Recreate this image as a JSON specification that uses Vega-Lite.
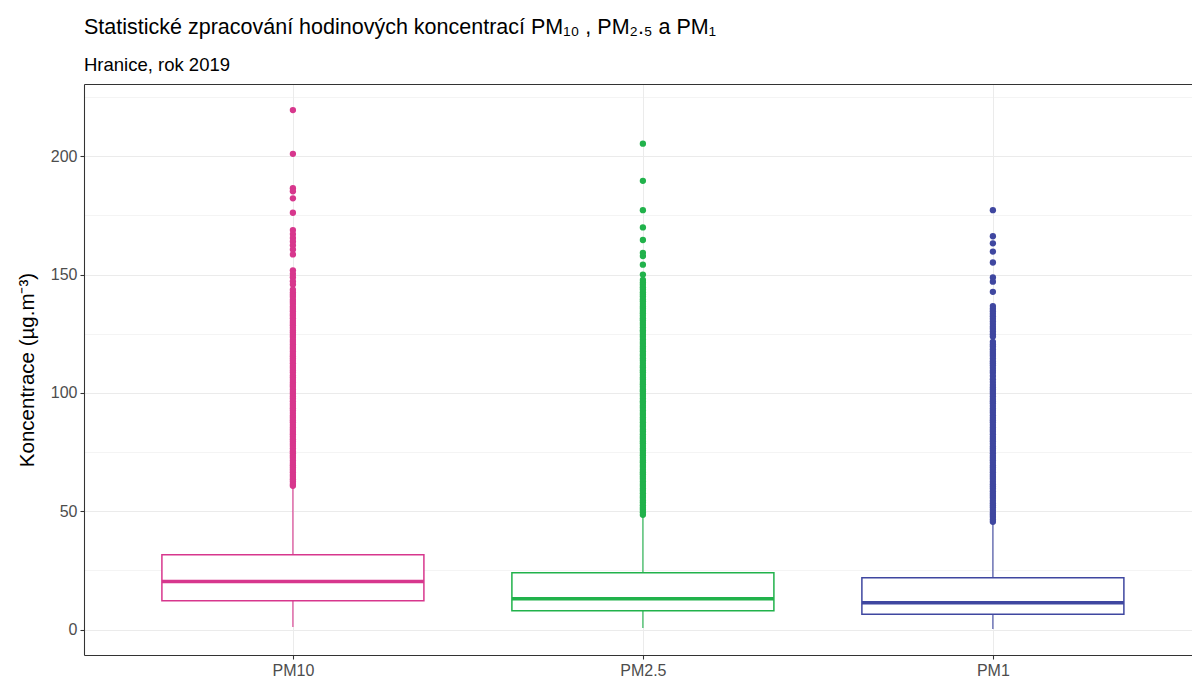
{
  "$schema": "https://vega.github.io/schema/vega-lite/v6.json",
  "autosize": "none",
  "width": 1108,
  "height": 571,
  "padding": {"left": 84, "top": 84, "right": 0, "bottom": 24},
  "background": "white",
  "config": {
    "view": {"stroke": null},
    "font": "Liberation Sans"
  },
  "title": {
    "text": "Statistické zpracování hodinových koncentrací PM₁₀ , PM₂.₅ a PM₁",
    "subtitle": "Hranice, rok 2019",
    "anchor": "start",
    "frame": "group",
    "font": "Liberation Sans",
    "fontSize": 21.5,
    "fontWeight": "normal",
    "color": "#000000",
    "subtitleFont": "Liberation Sans",
    "subtitleFontSize": 18.5,
    "subtitleColor": "#000000",
    "offset": 10,
    "subtitlePadding": 17
  },
  "datasets": {
    "stats": [
      {"pm": "PM10", "lower": 1.1, "q1": 12.2, "median": 20.3, "q3": 31.6, "upper": 60.6},
      {"pm": "PM2.5", "lower": 0.7, "q1": 8.0, "median": 13.1, "q3": 24.0, "upper": 48.2},
      {"pm": "PM1", "lower": 0.3, "q1": 6.5, "median": 11.4, "q3": 21.9, "upper": 45.3}
    ],
    "outliers": [
      {"pm": "PM10", "v": 219.5}, {"pm": "PM10", "v": 201.0}, {"pm": "PM10", "v": 186.5}, {"pm": "PM10", "v": 185.2},
      {"pm": "PM10", "v": 182.2}, {"pm": "PM10", "v": 176.1}, {"pm": "PM10", "v": 168.8}, {"pm": "PM10", "v": 167.1},
      {"pm": "PM10", "v": 165.5}, {"pm": "PM10", "v": 164.0}, {"pm": "PM10", "v": 162.4}, {"pm": "PM10", "v": 160.6},
      {"pm": "PM10", "v": 158.5}, {"pm": "PM10", "v": 151.8}, {"pm": "PM10", "v": 150.3}, {"pm": "PM10", "v": 148.9},
      {"pm": "PM10", "v": 147.2}, {"pm": "PM10", "v": 145.8},
      {"pm": "PM10", "v": 143.6}, {"pm": "PM10", "v": 142.4}, {"pm": "PM10", "v": 141.5}, {"pm": "PM10", "v": 140.6},
      {"pm": "PM10", "v": 139.4}, {"pm": "PM10", "v": 138.5}, {"pm": "PM10", "v": 137.6}, {"pm": "PM10", "v": 136.4},
      {"pm": "PM10", "v": 135.5}, {"pm": "PM10", "v": 134.5}, {"pm": "PM10", "v": 133.4}, {"pm": "PM10", "v": 132.6},
      {"pm": "PM10", "v": 131.5}, {"pm": "PM10", "v": 130.4}, {"pm": "PM10", "v": 129.5}, {"pm": "PM10", "v": 128.6},
      {"pm": "PM10", "v": 127.5}, {"pm": "PM10", "v": 126.4}, {"pm": "PM10", "v": 125.5}, {"pm": "PM10", "v": 124.5},
      {"pm": "PM10", "v": 123.6}, {"pm": "PM10", "v": 122.4}, {"pm": "PM10", "v": 121.5}, {"pm": "PM10", "v": 120.5},
      {"pm": "PM10", "v": 119.4}, {"pm": "PM10", "v": 118.6}, {"pm": "PM10", "v": 117.5}, {"pm": "PM10", "v": 116.4},
      {"pm": "PM10", "v": 115.5}, {"pm": "PM10", "v": 114.5}, {"pm": "PM10", "v": 113.6}, {"pm": "PM10", "v": 112.5},
      {"pm": "PM10", "v": 111.4}, {"pm": "PM10", "v": 110.5}, {"pm": "PM10", "v": 109.5}, {"pm": "PM10", "v": 108.6},
      {"pm": "PM10", "v": 107.4}, {"pm": "PM10", "v": 106.5}, {"pm": "PM10", "v": 105.5}, {"pm": "PM10", "v": 104.4},
      {"pm": "PM10", "v": 103.5}, {"pm": "PM10", "v": 102.6}, {"pm": "PM10", "v": 101.5}, {"pm": "PM10", "v": 100.4},
      {"pm": "PM10", "v": 99.5}, {"pm": "PM10", "v": 98.5}, {"pm": "PM10", "v": 97.6}, {"pm": "PM10", "v": 96.5},
      {"pm": "PM10", "v": 95.4}, {"pm": "PM10", "v": 94.5}, {"pm": "PM10", "v": 93.5}, {"pm": "PM10", "v": 92.6},
      {"pm": "PM10", "v": 91.5}, {"pm": "PM10", "v": 90.4}, {"pm": "PM10", "v": 89.5}, {"pm": "PM10", "v": 88.5},
      {"pm": "PM10", "v": 87.6}, {"pm": "PM10", "v": 86.5}, {"pm": "PM10", "v": 85.4}, {"pm": "PM10", "v": 84.5},
      {"pm": "PM10", "v": 83.5}, {"pm": "PM10", "v": 82.6}, {"pm": "PM10", "v": 81.5}, {"pm": "PM10", "v": 80.4},
      {"pm": "PM10", "v": 79.5}, {"pm": "PM10", "v": 78.5}, {"pm": "PM10", "v": 77.6}, {"pm": "PM10", "v": 76.5},
      {"pm": "PM10", "v": 75.4}, {"pm": "PM10", "v": 74.5}, {"pm": "PM10", "v": 73.5}, {"pm": "PM10", "v": 72.6},
      {"pm": "PM10", "v": 71.5}, {"pm": "PM10", "v": 70.4}, {"pm": "PM10", "v": 69.5}, {"pm": "PM10", "v": 68.5},
      {"pm": "PM10", "v": 67.6}, {"pm": "PM10", "v": 66.5}, {"pm": "PM10", "v": 65.4}, {"pm": "PM10", "v": 64.5},
      {"pm": "PM10", "v": 63.5}, {"pm": "PM10", "v": 62.6}, {"pm": "PM10", "v": 61.5}, {"pm": "PM10", "v": 60.8},

      {"pm": "PM2.5", "v": 205.3}, {"pm": "PM2.5", "v": 189.6}, {"pm": "PM2.5", "v": 177.2}, {"pm": "PM2.5", "v": 169.9},
      {"pm": "PM2.5", "v": 164.6}, {"pm": "PM2.5", "v": 159.2}, {"pm": "PM2.5", "v": 157.8}, {"pm": "PM2.5", "v": 154.2},
      {"pm": "PM2.5", "v": 150.0},
      {"pm": "PM2.5", "v": 147.7}, {"pm": "PM2.5", "v": 146.6}, {"pm": "PM2.5", "v": 145.7}, {"pm": "PM2.5", "v": 144.6},
      {"pm": "PM2.5", "v": 143.7}, {"pm": "PM2.5", "v": 142.5}, {"pm": "PM2.5", "v": 141.6}, {"pm": "PM2.5", "v": 140.7},
      {"pm": "PM2.5", "v": 139.6}, {"pm": "PM2.5", "v": 138.7}, {"pm": "PM2.5", "v": 137.6}, {"pm": "PM2.5", "v": 136.5},
      {"pm": "PM2.5", "v": 135.7}, {"pm": "PM2.5", "v": 134.6}, {"pm": "PM2.5", "v": 133.7}, {"pm": "PM2.5", "v": 132.6},
      {"pm": "PM2.5", "v": 131.5}, {"pm": "PM2.5", "v": 130.7}, {"pm": "PM2.5", "v": 129.6}, {"pm": "PM2.5", "v": 128.7},
      {"pm": "PM2.5", "v": 127.6}, {"pm": "PM2.5", "v": 126.5}, {"pm": "PM2.5", "v": 125.7}, {"pm": "PM2.5", "v": 124.6},
      {"pm": "PM2.5", "v": 123.7}, {"pm": "PM2.5", "v": 122.6}, {"pm": "PM2.5", "v": 121.5}, {"pm": "PM2.5", "v": 120.7},
      {"pm": "PM2.5", "v": 119.6}, {"pm": "PM2.5", "v": 118.7}, {"pm": "PM2.5", "v": 117.6}, {"pm": "PM2.5", "v": 116.5},
      {"pm": "PM2.5", "v": 115.7}, {"pm": "PM2.5", "v": 114.6}, {"pm": "PM2.5", "v": 113.7}, {"pm": "PM2.5", "v": 112.6},
      {"pm": "PM2.5", "v": 111.5}, {"pm": "PM2.5", "v": 110.7}, {"pm": "PM2.5", "v": 109.6}, {"pm": "PM2.5", "v": 108.7},
      {"pm": "PM2.5", "v": 107.6}, {"pm": "PM2.5", "v": 106.5}, {"pm": "PM2.5", "v": 105.7}, {"pm": "PM2.5", "v": 104.6},
      {"pm": "PM2.5", "v": 103.7}, {"pm": "PM2.5", "v": 102.6}, {"pm": "PM2.5", "v": 101.5}, {"pm": "PM2.5", "v": 100.7},
      {"pm": "PM2.5", "v": 99.6}, {"pm": "PM2.5", "v": 98.7}, {"pm": "PM2.5", "v": 97.6}, {"pm": "PM2.5", "v": 96.5},
      {"pm": "PM2.5", "v": 95.7}, {"pm": "PM2.5", "v": 94.6}, {"pm": "PM2.5", "v": 93.7}, {"pm": "PM2.5", "v": 92.6},
      {"pm": "PM2.5", "v": 91.5}, {"pm": "PM2.5", "v": 90.7}, {"pm": "PM2.5", "v": 89.6}, {"pm": "PM2.5", "v": 88.7},
      {"pm": "PM2.5", "v": 87.6}, {"pm": "PM2.5", "v": 86.5}, {"pm": "PM2.5", "v": 85.7}, {"pm": "PM2.5", "v": 84.6},
      {"pm": "PM2.5", "v": 83.7}, {"pm": "PM2.5", "v": 82.6}, {"pm": "PM2.5", "v": 81.5}, {"pm": "PM2.5", "v": 80.7},
      {"pm": "PM2.5", "v": 79.6}, {"pm": "PM2.5", "v": 78.7}, {"pm": "PM2.5", "v": 77.6}, {"pm": "PM2.5", "v": 76.5},
      {"pm": "PM2.5", "v": 75.7}, {"pm": "PM2.5", "v": 74.6}, {"pm": "PM2.5", "v": 73.7}, {"pm": "PM2.5", "v": 72.6},
      {"pm": "PM2.5", "v": 71.5}, {"pm": "PM2.5", "v": 70.7}, {"pm": "PM2.5", "v": 69.6}, {"pm": "PM2.5", "v": 68.7},
      {"pm": "PM2.5", "v": 67.6}, {"pm": "PM2.5", "v": 66.5}, {"pm": "PM2.5", "v": 65.7}, {"pm": "PM2.5", "v": 64.6},
      {"pm": "PM2.5", "v": 63.7}, {"pm": "PM2.5", "v": 62.6}, {"pm": "PM2.5", "v": 61.5}, {"pm": "PM2.5", "v": 60.7},
      {"pm": "PM2.5", "v": 59.6}, {"pm": "PM2.5", "v": 58.7}, {"pm": "PM2.5", "v": 57.6}, {"pm": "PM2.5", "v": 56.5},
      {"pm": "PM2.5", "v": 55.7}, {"pm": "PM2.5", "v": 54.6}, {"pm": "PM2.5", "v": 53.7}, {"pm": "PM2.5", "v": 52.6},
      {"pm": "PM2.5", "v": 51.5}, {"pm": "PM2.5", "v": 50.7}, {"pm": "PM2.5", "v": 49.6}, {"pm": "PM2.5", "v": 48.5},

      {"pm": "PM1", "v": 177.2}, {"pm": "PM1", "v": 166.2}, {"pm": "PM1", "v": 163.2}, {"pm": "PM1", "v": 159.7},
      {"pm": "PM1", "v": 155.1}, {"pm": "PM1", "v": 148.8}, {"pm": "PM1", "v": 147.0}, {"pm": "PM1", "v": 142.7},
      {"pm": "PM1", "v": 136.7}, {"pm": "PM1", "v": 135.6}, {"pm": "PM1", "v": 134.5}, {"pm": "PM1", "v": 133.4},
      {"pm": "PM1", "v": 132.4}, {"pm": "PM1", "v": 131.3}, {"pm": "PM1", "v": 130.2}, {"pm": "PM1", "v": 129.1},
      {"pm": "PM1", "v": 128.0}, {"pm": "PM1", "v": 127.0}, {"pm": "PM1", "v": 125.9}, {"pm": "PM1", "v": 124.8},
      {"pm": "PM1", "v": 123.8},
      {"pm": "PM1", "v": 121.6}, {"pm": "PM1", "v": 120.5}, {"pm": "PM1", "v": 119.6}, {"pm": "PM1", "v": 118.5},
      {"pm": "PM1", "v": 117.4}, {"pm": "PM1", "v": 116.5}, {"pm": "PM1", "v": 115.6}, {"pm": "PM1", "v": 114.5},
      {"pm": "PM1", "v": 113.4}, {"pm": "PM1", "v": 112.5}, {"pm": "PM1", "v": 111.6}, {"pm": "PM1", "v": 110.5},
      {"pm": "PM1", "v": 109.4}, {"pm": "PM1", "v": 108.5}, {"pm": "PM1", "v": 107.2}, {"pm": "PM1", "v": 105.8},
      {"pm": "PM1", "v": 104.6}, {"pm": "PM1", "v": 103.4}, {"pm": "PM1", "v": 102.3}, {"pm": "PM1", "v": 101.4},
      {"pm": "PM1", "v": 100.5}, {"pm": "PM1", "v": 99.6}, {"pm": "PM1", "v": 98.5}, {"pm": "PM1", "v": 97.4},
      {"pm": "PM1", "v": 96.5}, {"pm": "PM1", "v": 95.6}, {"pm": "PM1", "v": 94.5}, {"pm": "PM1", "v": 93.4},
      {"pm": "PM1", "v": 92.5}, {"pm": "PM1", "v": 91.6}, {"pm": "PM1", "v": 90.5}, {"pm": "PM1", "v": 89.4},
      {"pm": "PM1", "v": 88.5}, {"pm": "PM1", "v": 87.6}, {"pm": "PM1", "v": 86.5}, {"pm": "PM1", "v": 85.4},
      {"pm": "PM1", "v": 84.5}, {"pm": "PM1", "v": 83.6}, {"pm": "PM1", "v": 82.5}, {"pm": "PM1", "v": 81.4},
      {"pm": "PM1", "v": 80.5}, {"pm": "PM1", "v": 79.6}, {"pm": "PM1", "v": 78.5}, {"pm": "PM1", "v": 77.4},
      {"pm": "PM1", "v": 76.5}, {"pm": "PM1", "v": 75.6}, {"pm": "PM1", "v": 74.5}, {"pm": "PM1", "v": 73.4},
      {"pm": "PM1", "v": 72.5}, {"pm": "PM1", "v": 71.6}, {"pm": "PM1", "v": 70.5}, {"pm": "PM1", "v": 69.4},
      {"pm": "PM1", "v": 68.5}, {"pm": "PM1", "v": 67.6}, {"pm": "PM1", "v": 66.5}, {"pm": "PM1", "v": 65.4},
      {"pm": "PM1", "v": 64.5}, {"pm": "PM1", "v": 63.6}, {"pm": "PM1", "v": 62.5}, {"pm": "PM1", "v": 61.4},
      {"pm": "PM1", "v": 60.5}, {"pm": "PM1", "v": 59.6}, {"pm": "PM1", "v": 58.5}, {"pm": "PM1", "v": 57.4},
      {"pm": "PM1", "v": 56.5}, {"pm": "PM1", "v": 55.6}, {"pm": "PM1", "v": 54.5}, {"pm": "PM1", "v": 53.4},
      {"pm": "PM1", "v": 52.5}, {"pm": "PM1", "v": 51.6}, {"pm": "PM1", "v": 50.5}, {"pm": "PM1", "v": 49.4},
      {"pm": "PM1", "v": 48.5}, {"pm": "PM1", "v": 47.6}, {"pm": "PM1", "v": 46.5}, {"pm": "PM1", "v": 45.6}
    ]
  },
  "resolve": {"axis": {"x": "independent"}},
  "layer": [
    {
      "data": {"name": "stats"},
      "mark": {"type": "rule", "strokeWidth": 1.1},
      "encoding": {
        "x": {
          "field": "pm", "type": "nominal",
          "scale": {"type": "point", "domain": ["PM10", "PM2.5", "PM1"], "padding": 0.5829, "align": 0.512},
          "axis": {
            "title": null, "labelAngle": 0,
            "labelFont": "Liberation Sans", "labelFontSize": 16, "labelColor": "#4D4D4D", "labelPadding": 3,
            "tickSize": 4, "tickColor": "#333333", "tickWidth": 1.07,
            "domainColor": "#333333", "domainWidth": 1.07,
            "grid": true, "gridColor": "#EBEBEB", "gridWidth": 1.07
          }
        },
        "y": {
          "field": "lower", "type": "quantitative",
          "scale": {"domain": [-10.7, 230.5], "nice": false, "zero": false},
          "axis": {
            "title": "Koncentrace (µg.m⁻³)",
            "titleFont": "Liberation Sans", "titleFontSize": 20.5, "titleFontWeight": "normal", "titleColor": "#000000",
            "titlePadding": 13,
            "values": [0, 25, 50, 75, 100, 125, 150, 175, 200, 225],
            "labelExpr": "datum.value % 50 === 0 ? datum.label : ''",
            "labelFont": "Liberation Sans", "labelFontSize": 16, "labelColor": "#4D4D4D", "labelPadding": 3,
            "tickSize": 4, "tickColor": "#333333", "tickWidth": 1.07,
            "tickOpacity": {"condition": {"test": "datum.value % 50 !== 0", "value": 0}, "value": 1},
            "domainColor": "#333333", "domainWidth": 1.07,
            "grid": true, "gridColor": "#EBEBEB",
            "gridWidth": {"condition": {"test": "datum.value % 50 !== 0", "value": 0.55}, "value": 1.07}
          }
        },
        "y2": {"field": "upper"},
        "color": {
          "field": "pm", "type": "nominal",
          "scale": {"domain": ["PM10", "PM2.5", "PM1"], "range": ["#D7378D", "#21B24B", "#3F47A0"]},
          "legend": null
        }
      }
    },
    {
      "data": {"name": "stats"},
      "mark": {"type": "bar", "width": 262, "fill": "white", "strokeWidth": 1.5, "opacity": 1},
      "encoding": {
        "x": {
          "field": "pm", "type": "nominal",
          "axis": {"orient": "top", "title": null, "labels": false, "ticks": false, "grid": false,
                   "domain": true, "domainColor": "#333333", "domainWidth": 1.07}
        },
        "y": {"field": "q1", "type": "quantitative"},
        "y2": {"field": "q3"},
        "stroke": {
          "field": "pm", "type": "nominal",
          "scale": {"domain": ["PM10", "PM2.5", "PM1"], "range": ["#D7378D", "#21B24B", "#3F47A0"]},
          "legend": null
        }
      }
    },
    {
      "data": {"name": "stats"},
      "mark": {"type": "tick", "size": 262, "thickness": 3.5, "opacity": 1},
      "encoding": {
        "x": {"field": "pm", "type": "nominal", "axis": null},
        "y": {"field": "median", "type": "quantitative"},
        "color": {"field": "pm", "type": "nominal", "legend": null}
      }
    },
    {
      "data": {"name": "outliers"},
      "mark": {"type": "point", "filled": true, "size": 40, "opacity": 1},
      "encoding": {
        "x": {"field": "pm", "type": "nominal", "axis": null},
        "y": {"field": "v", "type": "quantitative"},
        "color": {"field": "pm", "type": "nominal", "legend": null}
      }
    }
  ]
}
